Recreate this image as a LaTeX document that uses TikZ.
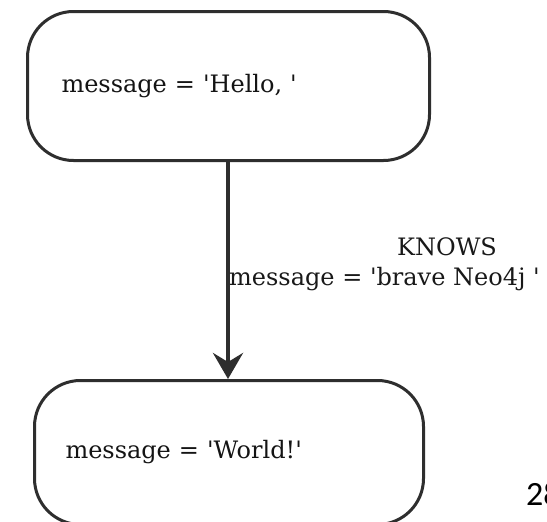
\documentclass[tikz,border=0pt]{standalone}
\usepackage{fontspec}
\setmainfont{DejaVu Serif}[Ligatures=TeXOff]
\newfontfamily\pagefont{Carlito}
\usetikzlibrary{arrows.meta}
\definecolor{inkgray}{HTML}{2E2E2E}
\tikzset{
  statebox/.style={draw=inkgray, line width=3pt, rounded corners=46pt, fill=white,
    align=left, inner ysep=0pt, font=\fontsize{24}{28}\selectfont, text=black!92},
  edgelabel/.style={font=\fontsize{24}{28}\selectfont, text=black!90, inner sep=0pt},
  relarrow/.style={draw=inkgray, line width=4pt, -{Stealth[length=26pt,width=30pt,inset=9pt]}},
}
\begin{document}
\begin{tikzpicture}[x=1pt,y=-1pt]
\useasboundingbox (0,0) rectangle (547,522);
\fill[white] (0,0) rectangle (547,522);
\node[statebox, anchor=north west, minimum height=149pt, text width=334pt, inner xsep=34pt] (hello) at (26,10) {message = 'Hello, '};
\node[statebox, anchor=north west, minimum height=144pt, text width=327pt, inner xsep=31pt] (world) at (33,379) {message = 'World!'};
\draw[relarrow] (hello.south -| 228,0) -- (world.north -| 228,0);
\node[edgelabel, anchor=base] (knows) at (447,255) {KNOWS};
\node[edgelabel, anchor=base west] (brave) at (229,285) {message = 'brave Neo4j '};
\node[font=\pagefont\fontsize{34}{40}\selectfont, anchor=base west, inner sep=0pt] (pagenum) at (526,505) {28};
\end{tikzpicture}
\end{document}
